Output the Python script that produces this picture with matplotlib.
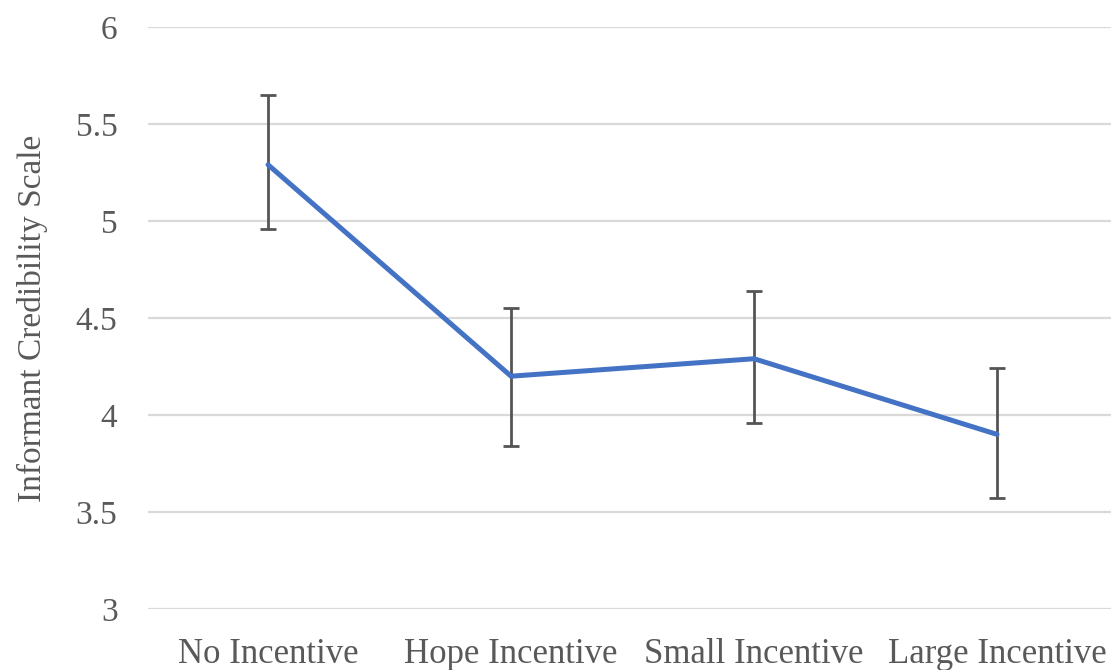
import numpy as np
import matplotlib.pyplot as plt

# Values
categories = ['No Incentive', 'Hope Incentive', 'Small Incentive', 'Large Incentive']
means = [5.29, 4.20, 4.29, 3.90]
err_low = [4.96, 3.84, 3.96, 3.57]
err_high = [5.65, 4.55, 4.64, 4.24]
yticks = [3, 3.5, 4, 4.5, 5, 5.5, 6]
ytick_labels = ['3', '3.5', '4', '4.5', '5', '5.5', '6']

plt.rcParams['font.family'] = ['Liberation Serif', 'DejaVu Serif']
text_col = '#595959'

fig = plt.figure(figsize=(11.11, 6.70), dpi=100)
ax = fig.add_axes([148 / 1111, 61 / 670, 1 - 148 / 1111, 582 / 670])

x = np.arange(len(categories))
means_arr = np.array(means)
yerr = np.array([means_arr - np.array(err_low), np.array(err_high) - means_arr])

# Error bars first, then the line on top
ax.errorbar(x, means, yerr=yerr, fmt='none', ecolor='#555555', elinewidth=2.0,
            capsize=6, capthick=2.0, zorder=2)
ax.plot(x, means, color='#4472C4', linewidth=3.6, solid_capstyle='round', zorder=3)

ax.set_xlim(-0.494, 3.469)
ax.set_ylim(3, 6)
ax.set_yticks(yticks)
ax.set_yticklabels(ytick_labels)
ax.set_xticks(x)
ax.set_xticklabels(categories)
ax.grid(True, axis='y', color='#D9D9D9', linewidth=1.6)
ax.set_axisbelow(True)
for s in ax.spines.values():
    s.set_visible(False)
ax.tick_params(axis='y', length=0, pad=22, labelsize=24, labelcolor=text_col)
ax.tick_params(axis='x', length=0, pad=21, labelsize=25, labelcolor=text_col)
ax.set_ylabel('Informant Credibility Scale', fontsize=24, color=text_col)
ax.yaxis.set_label_coords(-0.104, 0.5)

fig.savefig('out.png', dpi=100)
